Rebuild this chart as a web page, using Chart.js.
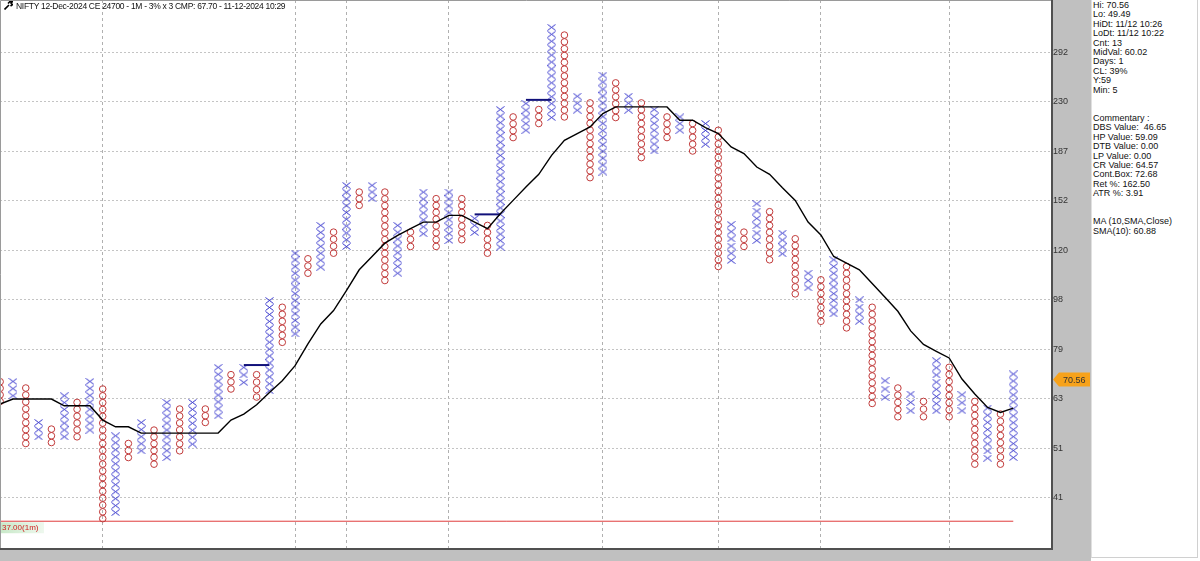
<!DOCTYPE html>
<html>
<head>
<meta charset="utf-8">
<script src="https://cdn.jsdelivr.net/npm/chart.js@4.4.1/dist/chart.umd.min.js"></script>
<style>
  body { margin: 0; background: #fff; font-family: "Liberation Sans", Arial, sans-serif; }
  #wrap { position: relative; width: 1200px; height: 561px; overflow: hidden; }
  #plot { position: absolute; left: 0; top: 0; width: 1091px; height: 561px; }
  #title { position: absolute; left: 4px; top: 1px; font-size: 8.5px; letter-spacing: -0.3px; color: #111; white-space: nowrap; }
  #title svg { vertical-align: -1px; margin-right: 3px; }
  #info { position: absolute; left: 1091px; top: 0; width: 107px; height: 558px; background: #fff;
          border-left: 1px solid #e0e0e0; border-right: 1px solid #d0d0d0; border-bottom: 1px solid #d0d0d0;
          font-size: 9px; line-height: 9.4px; color: #111; padding: 1px 0 0 1px; box-sizing: border-box; white-space: pre; }
</style>
</head>
<body>
<div id="wrap">
  <div id="plot"><canvas id="pf"></canvas></div>
  <div id="title"><svg width="9" height="9" viewBox="0 0 9 9"><path d="M0.5 8.5 L5 4 M4 2.5 L6 0.5 L8.5 0.5 L7 2 L8.5 3.5 L6.5 5" stroke="#000" stroke-width="1.6" fill="none"/></svg>NIFTY 12-Dec-2024 CE 24700 - 1M - 3% x 3 CMP: 67.70 - 11-12-2024 10:29</div>
  <div id="info">Hi: 70.56
Lo: 49.49
HiDt: 11/12 10:26
LoDt: 11/12 10:22
Cnt: 13
MidVal: 60.02
Days: 1
CL: 39%
Y:59
Min: 5


Commentary :
DBS Value:  46.65
HP Value: 59.09
DTB Value: 0.00
LP Value: 0.00
CR Value: 64.57
Cont.Box: 72.68
Ret %: 162.50
ATR %: 3.91


MA (10,SMA,Close)
SMA(10): 60.88</div>
</div>
<script>
// point & figure columns (prices)
var colType = 'OXOXOXOXOXOXOXOXOXOXOXOXOXOXOXOXOXOXOXOXOXOXOXOXOXOXOXOXOXOXOXOXOXOXOXOXOXOXOXOX'.split('');
var colHigh = [68.39, 68.48, 66.52, 57.16, 55.51, 64.30, 62.43, 68.48, 66.23, 53.90,
               52.10, 57.16, 55.27, 62.43, 60.64, 62.43, 60.64, 72.86, 70.54, 72.86,
               70.54, 97.77, 94.92, 120.45, 117.51, 136.11, 132.15, 162.38, 157.65, 162.38,
               157.65, 136.11, 132.15, 157.65, 153.12, 157.65, 153.12, 140.38, 136.11, 226.75,
               219.47, 232.84, 226.75, 325.59, 314.72, 240.45, 233.45, 263.79, 254.98, 240.45,
               233.45, 226.75, 219.47, 219.47, 213.18, 213.18, 206.96, 136.71, 132.15, 149.78,
               144.59, 131.57, 128.35, 110.28, 107.12, 117.00, 113.59, 98.07, 94.92, 68.70,
               66.52, 64.78, 62.70, 75.04, 72.86, 64.58, 62.70, 60.90, 59.31, 70.76];
var colLow = [62.70, 64.30, 52.10, 53.66, 52.33, 53.66, 53.66, 55.27, 37.42, 38.43,
              48.98, 50.45, 47.57, 48.98, 50.45, 51.96, 57.16, 58.87, 66.23, 68.18,
              63.93, 65.73, 81.35, 84.42, 110.28, 113.24, 120.45, 124.07, 148.66, 153.12,
              106.79, 110.28, 124.07, 131.22, 124.07, 127.40, 127.79, 131.97, 120.45, 123.68,
              200.41, 206.96, 213.18, 218.89, 219.47, 226.05, 167.99, 172.19, 218.89, 226.05,
              183.48, 188.92, 200.41, 206.96, 188.92, 194.57, 113.59, 116.64, 124.07, 127.40,
              117.00, 120.14, 100.70, 103.40, 89.24, 92.20, 86.68, 89.24, 62.15, 63.82,
              58.61, 60.18, 58.61, 60.18, 58.61, 60.18, 47.57, 48.85, 47.57, 48.98];
// SMA(10) of close, one value per column
var smaValues = [61.99, 63.37, 63.37, 63.37, 63.37, 61.52, 61.52, 61.52, 57.76, 56.08,
                 56.08, 54.54, 54.54, 54.54, 54.54, 54.54, 54.54, 54.54, 57.76, 59.31,
                 61.80, 65.24, 68.70, 73.40, 80.77, 88.22, 93.55, 102.18, 111.95, 118.71,
                 125.89, 130.24, 134.14, 138.11, 138.11, 142.25, 142.25, 138.11, 134.14, 143.32,
                 151.98, 161.16, 170.45, 185.35, 198.03, 203.97, 210.00, 222.79, 229.37, 229.37,
                 229.37, 229.37, 229.37, 216.30, 216.30, 209.44, 203.97, 192.27, 186.75, 176.03,
                 170.45, 160.74, 151.98, 138.11, 130.52, 118.71, 115.26, 111.95, 105.38, 99.20,
                 93.26, 85.54, 80.60, 78.18, 75.94, 69.21, 64.78, 61.06, 59.73, 60.88];
// breakout lines: [fromCol, toCol, price]
var breakouts = [[19, 21, 73.6], [37, 39, 142.9], [41, 43, 236.6]];
var tickLabels = [41, 51, 63, 79, 98, 120, 152, 187, 230, 292];
var dayBreaks = [8, 23, 27, 35, 47, 56, 64, 74];
var lowLine = 37.00;
var lastPrice = 70.56;
var boxPct = 3;

var ln = Math.log;
var span = ln(tickLabels[tickLabels.length - 1]) - ln(tickLabels[0]);
var lnTicks = tickLabels.map(function (t, i) { return ln(tickLabels[0]) + i * span / (tickLabels.length - 1); });

var xPts = [], oPts = [];
colType.forEach(function (t, c) {
  var lo = ln(colLow[c]), hi = ln(colHigh[c]);
  var n = Math.round((hi - lo) / ln(1 + boxPct / 100)) + 1;
  for (var i = 0; i < n; i++) {
    var p = { x: c, y: n > 1 ? lo + (hi - lo) * i / (n - 1) : lo };
    (t === 'X' ? xPts : oPts).push(p);
  }
});

var xImg = document.createElement('canvas');
xImg.width = 9; xImg.height = 7;
var g = xImg.getContext('2d');
g.strokeStyle = '#3434cc'; g.lineWidth = 1;
g.beginPath(); g.moveTo(0.5, 0.5); g.lineTo(8.5, 6.5); g.moveTo(8.5, 0.5); g.lineTo(0.5, 6.5); g.stroke();

var datasets = [
  { type: 'line', data: smaValues.map(function (v, i) { return { x: i, y: ln(v) }; }),
    borderColor: '#000', borderWidth: 1.4, pointRadius: 0, tension: 0, order: 0 },
  { type: 'scatter', data: xPts, pointStyle: xImg, pointRadius: 4, order: 2 },
  { type: 'scatter', data: oPts, pointStyle: 'circle', pointRadius: 3.3, borderColor: '#c23b3b',
    backgroundColor: 'rgba(0,0,0,0)', borderWidth: 1, order: 2 },
  { type: 'line', data: [{ x: -1, y: ln(lowLine) }, { x: 79, y: ln(lowLine) }],
    borderColor: '#e03c3c', borderWidth: 1, pointRadius: 0, order: 3 }
];
breakouts.forEach(function (b) {
  datasets.push({ type: 'line', data: [{ x: b[0], y: ln(b[2]) }, { x: b[1], y: ln(b[2]) }],
    borderColor: '#10107a', borderWidth: 2, pointRadius: 0, order: 1 });
});

var frame = {
  id: 'frame',
  beforeDraw: function (chart) {
    var c = chart.ctx, a = chart.chartArea;
    c.save();
    c.fillStyle = '#c0c0c0';
    c.fillRect(0, 0, chart.width, chart.height);
    c.fillStyle = '#fff';
    c.fillRect(a.left, a.top, a.right - a.left, a.bottom - a.top);
    c.restore();
  },
  afterDraw: function (chart) {
    var c = chart.ctx, a = chart.chartArea, ys = chart.scales.y;
    c.save();
    c.strokeStyle = '#9a9a9a'; c.lineWidth = 1;
    c.beginPath(); c.moveTo(0.5, a.bottom); c.lineTo(0.5, 0.5); c.lineTo(a.right, 0.5); c.stroke();
    c.strokeStyle = '#505050'; c.lineWidth = 2;
    c.beginPath(); c.moveTo(a.right, 0); c.lineTo(a.right, a.bottom + 1); c.lineTo(0, a.bottom + 1); c.stroke();
    // low line label
    var yl = ys.getPixelForValue(ln(lowLine));
    var gr = c.createLinearGradient(0, 0, 44, 0);
    gr.addColorStop(0, '#c8e8c8'); gr.addColorStop(1, '#eef8ee');
    c.fillStyle = gr; c.fillRect(1, yl + 1, 43, 11);
    c.fillStyle = '#d02020'; c.font = '8px "Liberation Sans", Arial'; c.textBaseline = 'middle';
    c.fillText(lowLine.toFixed(2) + '(1m)', 2, yl + 6.5);
    // last price marker
    var yp = ys.getPixelForValue(ln(lastPrice)) + 5;
    c.fillStyle = '#f7a21b';
    c.beginPath(); c.moveTo(a.right + 1, yp); c.lineTo(a.right + 7, yp - 7); c.lineTo(1090, yp - 7);
    c.lineTo(1090, yp + 7); c.lineTo(a.right + 7, yp + 7); c.closePath(); c.fill();
    c.fillStyle = '#333'; c.font = '9px "Liberation Sans", Arial';
    c.fillText(lastPrice.toFixed(2), a.right + 11, yp + 0.5);
    c.restore();
  }
};

new Chart(document.getElementById('pf'), {
  data: { datasets: datasets },
  options: {
    responsive: true, maintainAspectRatio: false, animation: false, events: [],
    layout: { autoPadding: false, padding: { left: 0, top: 0, right: 0, bottom: 13 } },
    plugins: { legend: { display: false }, tooltip: { enabled: false } },
    scales: {
      x: {
        type: 'linear', min: -0.01, max: 82.02,
        afterBuildTicks: function (s) { s.ticks = dayBreaks.map(function (d) { return { value: d }; }); },
        afterFit: function (s) { s.height = 0; s.paddingLeft = 0; s.paddingRight = 0; },
        ticks: { display: false },
        grid: { color: '#b0b0b0', lineWidth: 1, drawTicks: false },
        border: { display: false, dash: [3, 3] }
      },
      y: {
        type: 'linear', position: 'right',
        min: lnTicks[0] - span * 50 / 445, max: lnTicks[lnTicks.length - 1] + span * 52 / 445,
        afterBuildTicks: function (s) { s.ticks = lnTicks.map(function (v) { return { value: v }; }); },
        afterFit: function (s) { s.width = 39; s.paddingTop = 0; s.paddingBottom = 0; },
        ticks: { padding: 1, color: '#333', font: { size: 9, family: '"Liberation Sans", Arial' },
                 callback: function (v, i) { return String(tickLabels[i]); } },
        grid: { color: '#c4c4c4', lineWidth: 1, drawTicks: false },
        border: { display: false, dash: [2, 2] }
      }
    }
  },
  plugins: [frame]
});
</script>
</body>
</html>
